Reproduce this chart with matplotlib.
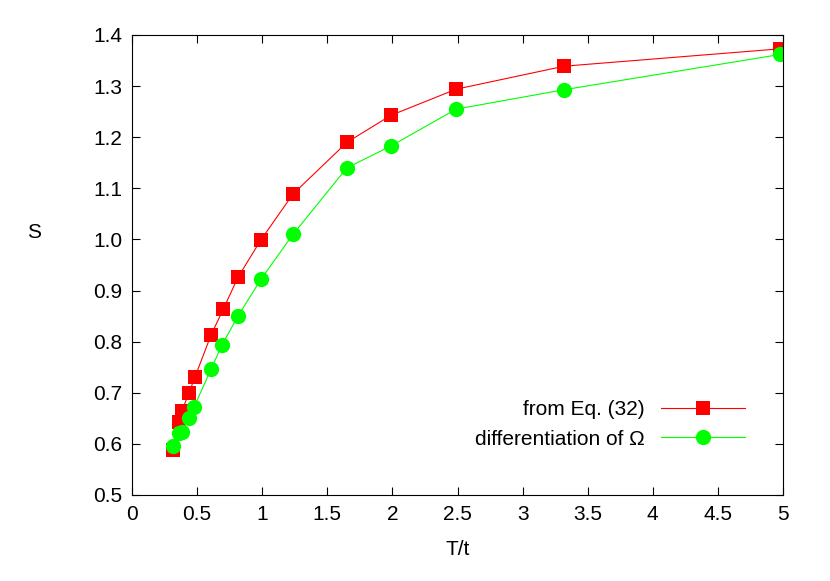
import matplotlib
matplotlib.use("Agg")
import matplotlib.pyplot as plt

t_red = [0.315, 0.36, 0.384, 0.438, 0.484, 0.607, 0.70, 0.814, 0.99, 1.237, 1.651, 1.99, 2.49, 3.32, 4.98]
s_red = [0.588, 0.643, 0.665, 0.70, 0.731, 0.813, 0.863, 0.926, 0.999, 1.089, 1.19, 1.243, 1.294, 1.339, 1.373]
t_grn = [0.315, 0.36, 0.384, 0.438, 0.476, 0.607, 0.69, 0.814, 0.99, 1.237, 1.65, 1.99, 2.49, 3.32, 4.98]
s_grn = [0.595, 0.622, 0.623, 0.65, 0.672, 0.746, 0.793, 0.85, 0.922, 1.01, 1.14, 1.183, 1.255, 1.293, 1.362]
xticks = [0, 0.5, 1, 1.5, 2, 2.5, 3, 3.5, 4, 4.5, 5]
xlabels = ["0", "0.5", "1", "1.5", "2", "2.5", "3", "3.5", "4", "4.5", "5"]
yticks = [0.5, 0.6, 0.7, 0.8, 0.9, 1.0, 1.1, 1.2, 1.3, 1.4]

plt.rcParams["font.family"] = "Liberation Sans"
fig = plt.figure(figsize=(8.30, 5.81), dpi=100)
ax = fig.add_axes([132/830, 86/581, 651/830, 460/581])
ax.plot(t_red, s_red, color="#ff0000", lw=0.8, marker="s", ms=10, mew=0, label="from Eq. (32)")
ax.plot(t_grn, s_grn, color="#00ff00", lw=0.8, marker="o", ms=11, mew=0, label="differentiation of Ω")
ax.set_xlim(0, 5)
ax.set_ylim(0.5, 1.4)
ax.set_xticks(xticks)
ax.set_xticklabels(xlabels)
ax.set_yticks(yticks)
ax.set_yticklabels([f"{v:.1f}" for v in yticks])
ax.tick_params(direction="in", labelsize=15, top=True, right=True, length=6, pad=7)
ax.set_xlabel("T/t", fontsize=15, labelpad=12)
ax.set_ylabel("S", fontsize=15, rotation=0, labelpad=40)
ax.yaxis.set_label_coords(-0.15, 0.55)
leg = ax.legend(loc="lower right", frameon=False, fontsize=15, markerfirst=False,
                handlelength=4, bbox_to_anchor=(0.97, 0.06), labelspacing=0.5)
fig.savefig("out.png", dpi=100)
